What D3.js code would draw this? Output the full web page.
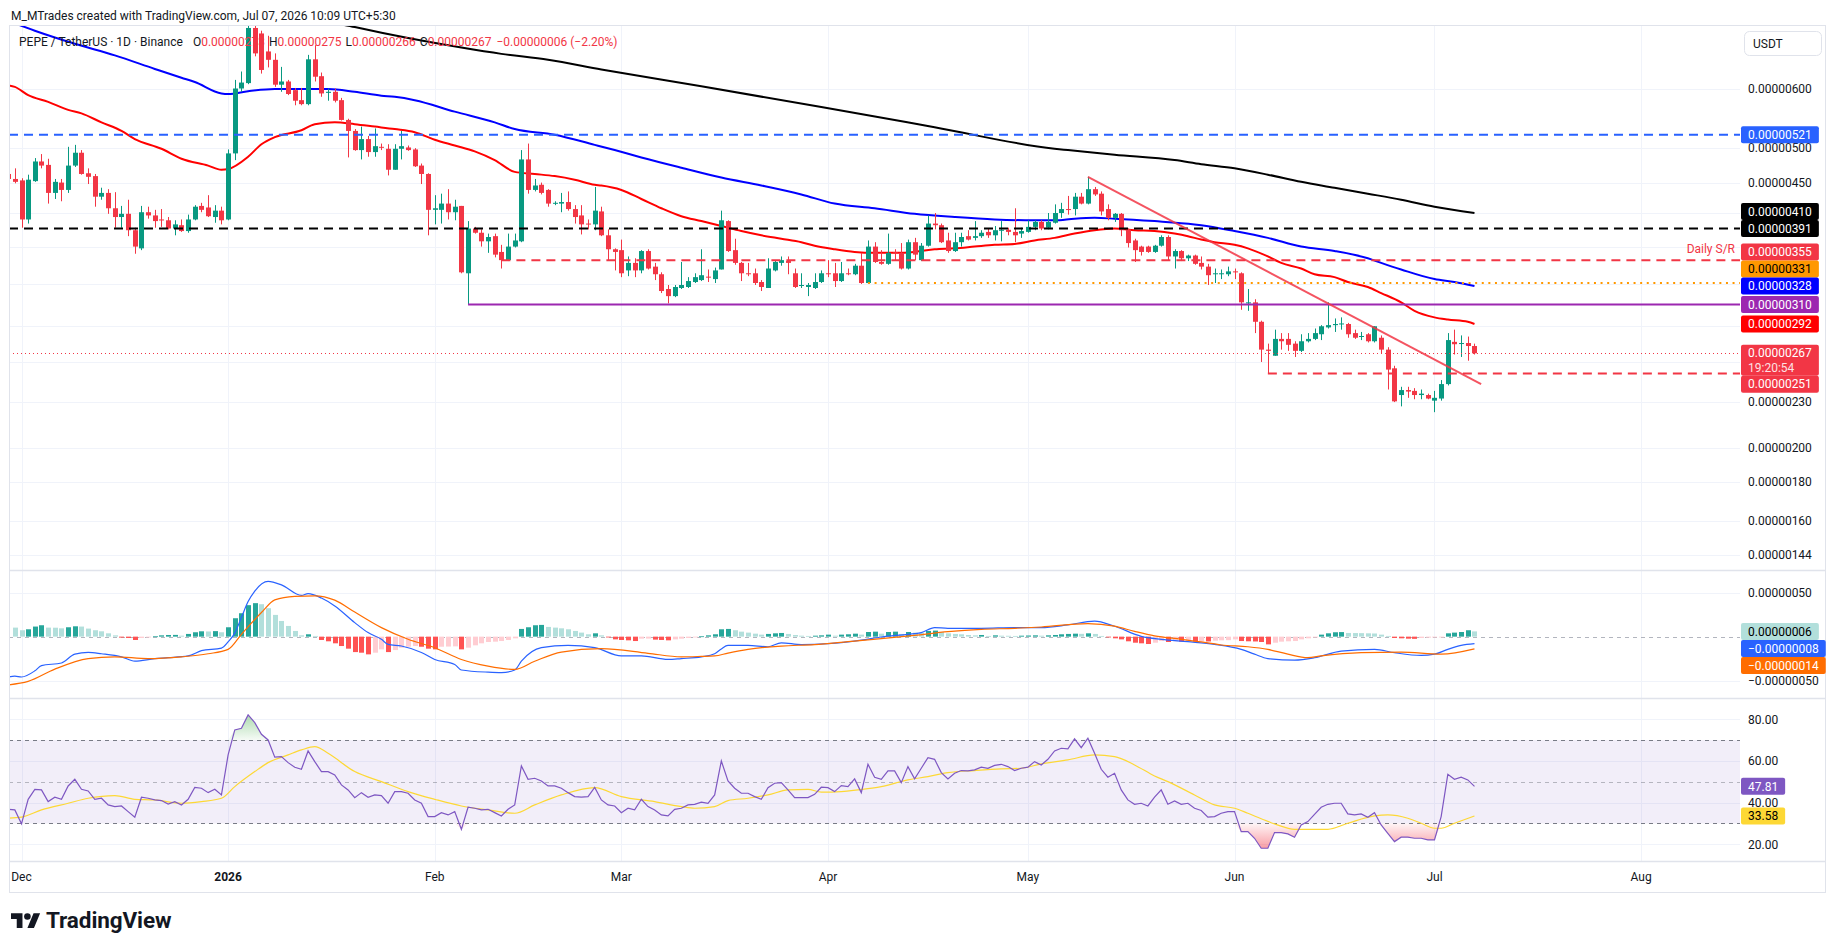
<!DOCTYPE html>
<html>
<head>
<meta charset="utf-8">
<title>PEPE / TetherUS 1D</title>
<script src="https://cdn.jsdelivr.net/npm/d3@7/dist/d3.min.js"></script>
<style>
  body { margin: 0; background: #ffffff; }
  svg { display: block; font-family: Roboto, "Noto Sans", sans-serif; }
</style>
</head>
<body>
<svg id="chart" width="1835" height="951"></svg>
<script>
// prices are in units of 0.00000001 USDT, one candle per day from Nov 29 2025
const firstCandle = Date.UTC(2025, 10, 29);

const candleOpen = [
  462,455,453,402,452,480,475,436,450,440,
  474,493,463,459,431,436,416,405,409,389,
  368,411,407,402,401,391,395,388,402,419,
  417,405,413,402,492,600,610,722,710,672,
  655,607,613,597,579,572,656,623,592,594,
  579,545,527,497,514,494,502,499,468,499,
  501,498,474,462,414,414,422,411,419,341,
  391,386,376,382,364,355,370,376,483,440,
  447,440,422,422,424,415,407,397,396,412,
  383,367,366,344,352,344,365,348,340,325,
  318,326,327,332,334,337.5,335,345,400,366,
  352,341,341,332,326,344,352,354,341,328,
  327,326,332,341,341,333,341,340,349,331,
  370,353,351,363.5,363,346,375,355,371,397,
  395,377,365,375,382,380,382,387,383,389,
  389.5,387,385,387,393,399,392,398,410,415,
  415,431,422,441,435,415,404,409,390,377,
  370,370,364,371,381,359,365,357,360,352,
  348,340,340,340,343,341,311,312,294,270,
  265,279,279,275,269,277,279,283,289,291,
  292,292,284,281,283,277,280,270,255,235,
  238.6,238,235,235,231,232.5,243,276.5,275,275.5,
  273
];
const candleHigh = [
  466,470,456,461,485,491,484,455,455,502,
  505,497,470,462,443,441,437,419,427,392,
  419,418,414,415,405,401,402,408,420,423,
  433,420,418,498,616,632,728,730,716,705,
  668,641,616,601,601,665,685,630,600,600,
  583,547,530,534,519,531,507,506,506,527,
  504,500,477,463,433,435,441,427,419,400,
  393,390,385,385,372,385,385,497,507,455,
  450,441,425,436,438,420,420,402,444,418,
  390,368,378,359,357,366,367,352,342,329,
  329,353,337,341,367,345,347,413,401,379,
  353,352,346,334,357,355,359,359,346,341,
  331,341,344,355,352,353,346,351,363,377,
  375,366,385,367,374,378,380,374,407,410,
  397,386,386,386,389,400,389,391,394,400,
  392,416,392,401,401,401,410,421,423,432,
  436,436,458,444,438,421,410,410,391,379,
  371,371,372,383,383,367,366,361,361,359,
  351,346,345,348,346,342,325,315,295,275,
  287,284,284,277,283,284,288,291,312,297,
  298,293,287,285,284,290,282,272,257,241,
  241,240,239,236,238,246,284,287,282,281,
  275
];
const candleLow = [
  450,449,392,397,451,470,422,428,425,436,
  472,461,448,418,427,409,392,392,382,362,
  366,403,392,393,390,383,387,386,401,411,
  405,398,396,401,482,594,608,662,628,640,
  603,594,588,570,570,570,613,585,578,575,
  544,486,496,483,487,487,497,460,468,483,
  496,472,448,383,396,397,402,401,341,310,
  385,370,363,358,346,354,369,375,435,438,
  434,418,420,411,413,397,384,390,389,382,
  355,344,337,338,337,341,345,334,321,311,
  317,325,326,331,333,332,331,345,364,350,
  333,338,329,323,326,343,349,340,326,326,
  318,325,331,337,327,332,339,339,330,331,
  352,350,350,355,345,345,355,354,370,390,
  374,363,364,370,377,377,380,380,377,376,
  383,375,380,386,389,389,390,397,404,408,
  407,421,421,432,407,401,399,382,369,353,
  360,363,363,370,355,346,354,354,350,345,
  329,331,335,338,335,305,304,284,260,251,
  265,270,269,264,268,276,278,278,288,285,
  287,280,279,278,276,276,267,239,230,227,
  233,232,232,232,223,231,242,266,264,261,
  266
];
const candleClose = [
  455,451,402,454,480,474,436,451,440,474,
  493,462,458,431,436,416,405,409,389,370,
  411,407,400,401,391,396,388,402,418,414,
  406,413,401,492,600,611,722,668,635,655,
  607,613,590,578,572,656,622,591,594,578,
  545,527,497,514,494,503,501,468,499,503,
  497,473,462,414,416,422,411,418,342,391,
  386,376,381,361,355,370,377,483,440,446,
  436,422,423,424,415,405,396,396,413,383,
  367,364,341,352,344,365,346,340,323,318,
  327,329,333,337,339,337,344,401,365,352,
  341,340,331,327,346,353,355,352,327,329,
  329,332,341,340,333,341,340,349,331,370,
  353,351,363,363,346,375,361,371,397,395,
  375,365,375,381,378,382,386,383,389,389.5,
  387,383,388,393,399,391,399,410,415,414,
  431,422,441,434,412,404,409,389,374,366,
  364,364,371,381,359,365,357,360,351,348,
  339,341,341,343,342,312,312,294,270,269,
  279,277,274,269,277,279,284,290,291,292,
  292.5,283,280,281.5,277,290,270,254,230.5,238.6,
  237.5,235,236,232.5,233,243,278,274.5,275.5,273,
  267
];

// moving averages: [days after Dec 1 2025, value]
const ema50 = [[-2,606],[-1,603],[1,588],[4,576],[7,562],[9,556],[12,541],[15,527],[17,514],[21,499],[24,484],[28,474],[30,468],[31,469],[34,487],[36,506],[38,517],[42,528],[44,538],[47,541],[50,538],[53,534],[56,530],[59,525],[62,513],[65,504],[68,495],[71,482],[74,465],[77,462],[80,459],[83,454],[86,447],[87,446],[90,440],[93,428],[96,416],[99,406],[102,400],[105,394],[108,388],[111,383],[114,379],[117,375],[119,371],[122,367],[125,364],[128,363],[131,363],[134,364],[137,367],[140,368],[143,370],[146,372],[149,373],[152,377],[155,380],[158,385],[161,389],[164,391],[167,389],[170,388],[173,385],[175,382],[177,378],[179,375],[182,372],[184,368],[187,359],[189,352],[192,346],[194,340],[197,337],[199,332],[202,327],[204,321],[207,312],[209,304],[212,298],[214,296],[217,294],[218,292]];
const ema100 = [[-2,738],[2,716],[8,688],[14,664],[20,637],[24,620],[26,612],[30,591],[31,590],[34,595],[38,599],[43,599],[46,599],[50,594],[54,587],[56,585],[59,579],[65,559],[71,541],[74,530],[80,521],[86,505],[89,497],[93,486],[99,471],[105,457],[111,446],[117,434],[122,422],[128,416],[134,409],[140,405],[146,402],[152,401],[155,401],[158,403],[161,404],[164,403],[170,400],[176,396],[177,395],[182,388],[187,380],[192,370],[197,365],[202,357],[204,352],[207,345],[212,335],[215,332],[218,328]];
const ema200 = [[40,770],[44,745],[50,724],[58,700],[66,680],[72,667],[79,655],[87,636],[102,604],[120,567],[137,533],[155,499],[157,497],[164,490],[173,482],[177,476],[182,470],[187,461],[192,451],[197,443],[202,435],[207,427],[212,418],[218,410]];

// drawn levels: price and first day (null = from the left edge)
const levelPrice = [521, 391, 355, 331, 310, 251];
const levelStart = [null, null, 72, 127, 67, 187];
const trendDays = [160, 219];
const trendPrice = [458, 243];

// MACD (12, 26, 9) histogram, one bar per day from Nov 30
const histStart = -1;
const histVals = [
  10.3,7.3,8.4,11.5,13,10.3,10.2,9.5,10.7,11.8,
  11.5,9.2,7.3,6.1,3.8,1.5,-1.1,-1.5,-3.8,-1.5,
  -0.4,0.4,1.5,1.9,2.0,1.1,3.1,5,6.1,5.9,
  6.3,5,10.7,21,26.7,35.9,38.2,37,32.4,24.8,
  17.9,12.2,6.5,1.5,2.7,0.8,-3.8,-5.3,-7.6,-10.7,
  -13.7,-17.6,-18.3,-20.2,-18.3,-14.5,-17.6,-15.3,-12.6,-11.5,
  -10.7,-11.5,-13.7,-14.5,-11.5,-11.3,-11.1,-14.5,-12.6,-9.9,
  -7.6,-6.1,-5.7,-5,-3.8,-1.9,8.8,10.7,13,13.4,
  11.1,10.3,9.5,8.4,6.5,4.6,2.7,3.8,1.5,-0.4,
  -3.1,-3.8,-4.2,-5,-2.3,-2.2,-3.4,-3.8,-4.2,-3.1,
  -2.3,-1.5,-0.8,0.4,1.5,2.7,8.4,8.8,7.3,5.7,
  4.6,3.4,2.3,3.1,3.8,4.2,3.1,1.9,1.1,0.8,
  1.1,1.5,2.3,1.1,2.3,2.7,3.4,2.3,5.3,5.7,
  3.4,5.3,5.7,3.1,5.3,4.6,4.2,6.5,6.9,5.3,
  3.8,3.1,2.7,1.9,1.5,1.9,0.8,1.5,1.1,1.0,
  0.8,1.1,1.3,1.5,1.1,1.5,1.9,2.7,3.1,3.4,
  3.2,3.8,3.1,0.8,-0.8,-1.9,-3.1,-5.3,-6.9,-7.6,
  -8.4,-6.9,-5,-6.1,-5.3,-5.7,-5.3,-5.7,-5.4,-5.5,
  -4.6,-4.2,-4.0,-3.1,-5,-5.3,-5.5,-6.1,-8.8,-6.9,
  -5.7,-5.3,-5,-3.1,-1.9,-0.8,2.3,3.8,5,5.2,
  4.2,4.1,4.0,3.8,3.6,2.3,0.8,-1.5,-1.9,-2.3,
  -2.5,-1.5,-1.1,-0.8,-0.4,3.8,4.6,5.3,7.3,6
];
const macdLine = [[-2,-46],[-1,-45],[0,-46],[2,-39],[3,-33],[6,-30],[8,-20],[10,-18],[12,-19.5],[15,-23],[17,-28],[20,-25],[22,-24],[25,-22],[27,-16],[30,-13],[31,-6],[32,4],[33,22],[34,40],[35,52],[37,63],[39,59],[42,47],[43,49],[45,44],[47,35],[50,16],[52,4.6],[54,-3],[55,-8.8],[57,-10.7],[60,-18],[62,-26],[65,-31.7],[66,-38],[70,-40.5],[72,-41],[74,-38],[75,-28],[78,-12.6],[82,-10],[86,-12.6],[90,-22],[93,-22],[97,-26],[99,-25],[102,-23],[104,-19.5],[105,-14],[106,-10],[109,-10],[112,-11.5],[114,-7],[117,-9],[121,-8],[126,-4],[129,-0.4],[133,2.7],[135,4.6],[137,10.3],[139,9.5],[144,9.5],[149,10.3],[153,10.3],[157,13.4],[161,17.6],[164,11.8],[168,0.4],[171,-3],[175,-5.7],[179,-8.8],[183,-14.5],[185,-20],[187,-25],[191,-26.7],[194,-24],[198,-16.4],[203,-14.5],[206,-18.3],[210,-21.4],[212,-20],[214,-14.5],[216,-10],[218,-8]];
const signalLine = [[-2,-55],[1,-51],[5,-37],[10,-25],[14,-23],[19,-25],[24,-23],[28,-19.5],[31,-14.5],[33,2.7],[36,27.5],[38,42],[41,46],[44,46.6],[47,41.6],[50,28],[54,10.3],[58,-3],[62,-12.6],[66,-26],[70,-33.6],[74,-37.4],[77,-28],[81,-17.6],[87,-13.7],[94,-19],[99,-23],[102,-22.5],[104,-22],[106,-18.7],[109,-14.5],[114,-10.7],[119,-9],[124,-5.7],[129,-2.3],[134,1.5],[139,5.7],[144,8.4],[149,9.5],[153,11],[160,14.9],[164,12],[167,6],[170,0.8],[174,-3],[177,-6],[180,-9.5],[184,-11.5],[187,-14.5],[190,-20],[193,-24],[195,-22],[201,-18.3],[207,-17.6],[213,-20],[218,-14]];

// RSI (14), one value per candle, and its moving average
const rsiVals = [
  36.8,36.5,29.8,41.6,46.4,46.1,40.5,42.6,41.6,48,
  51.2,46.4,45.6,41.6,42.1,38.9,38.1,38.4,35.7,33,
  42.6,42.1,41.3,41,39.3,40.5,38.9,41.6,47.3,46.9,
  44.8,46.4,43.7,62.9,74.9,75.7,82.1,78.4,72.8,70.1,
  61.8,62.1,59.2,57,56,64.8,59.7,54.9,54.9,53.3,
  48.5,46.1,42.4,44.8,42.6,43.7,43.4,39.7,45.3,45.3,
  44.5,41.3,39.7,33.3,33.3,35.2,34.1,35.7,27.2,37.8,
  37.3,36.5,36.8,35.2,33.6,36.8,38.9,57.6,51.2,51.7,
  50.4,48,48,46.9,44.8,42.9,42.6,42.9,47.3,41.3,
  38.9,38.4,35.2,37.3,36.5,41.6,38.1,36.5,34.1,33.6,
  36.8,37.3,38.9,39.2,40.2,39.7,43.7,60,50.4,46.9,
  44.5,44.5,42.9,41.6,47.2,49.3,49.6,46.1,42.4,42.4,
  42.4,44,47.4,47.2,45.3,48.2,47.7,51.4,44.8,58.4,
  52.2,51.2,55.2,55.2,49.6,57.3,51.4,56.5,61.6,60.8,
  54.4,51.4,54.1,55.4,55.2,55.7,57,56.5,57.9,58.4,
  57.3,55.4,56.5,57,59.7,58.1,60.8,64.8,66.1,65.8,
  70.6,66.4,70.9,63.7,56,52.2,54.1,46.1,41.3,39.2,
  39.7,38.4,42.6,46.1,39.2,40.8,39.2,39.7,37.3,36.2,
  33,33.3,34.9,35.7,35.7,26.1,26.1,22.9,18.1,18.1,
  25.6,25.6,25,23.4,29.3,30.9,34.4,37.8,39.2,39.7,
  39.7,34.6,34.1,34.6,33,35.2,29.3,25.3,21.3,23.4,
  23.4,22.9,22.9,22.1,22.1,33.3,53.6,51.2,52.2,50.9,
  47.81
];
const rsiMa = [[-2,32.5],[0,33],[3,36.5],[7,39.7],[10,42.1],[14,43.4],[17,41.6],[20,41.3],[24,39.7],[27,40.5],[30,42.1],[32,47.7],[35,54.9],[37,59.2],[40,62.9],[42,65.3],[44,66.9],[46,63.7],[50,54.9],[54,50.1],[58,45.3],[62,41.6],[66,38.4],[70,36.5],[74,34.9],[77,38.9],[81,43.7],[86,47.2],[90,42.9],[95,40.5],[99,38.1],[101,37.3],[104,38.1],[106,41],[109,42.1],[112,43.7],[115,46.1],[118,46.4],[120,45],[123,45.3],[127,46.7],[129,47.7],[133,50.9],[136,52.5],[139,54.4],[143,55.4],[147,56.2],[150,56.5],[153,58.6],[157,60.5],[161,62.9],[164,62.1],[167,58.1],[170,52.8],[172,50.1],[176,43.7],[179,38.9],[182,37.3],[184,34.9],[188,29.8],[191,27.2],[196,27.2],[199,30.1],[203,33.6],[205,34.1],[208,32.5],[210,30.1],[212,27.7],[213,27.7],[215,30.1],[218,33.58]];

// axis ticks
const priceTicks = [600, 500, 450, 410, 370, 330, 290, 260, 230, 200, 180, 160, 144];
const macdTicks = [50, -50];
const rsiTicks = [80, 60, 40, 20];
const monthTicks = [Date.UTC(2025,11,1), Date.UTC(2026,0,1), Date.UTC(2026,1,1), Date.UTC(2026,2,1), Date.UTC(2026,3,1), Date.UTC(2026,4,1), Date.UTC(2026,5,1), Date.UTC(2026,6,1), Date.UTC(2026,7,1)];
const monthLabels = ["Dec", "2026", "Feb", "Mar", "Apr", "May", "Jun", "Jul", "Aug"];

// ---- layout ----
const DAY = 864e5;
const dec1 = Date.UTC(2025, 11, 1);
const dayDate = d => new Date(dec1 + d * DAY);
const plotL = 9, plotR = 1740, axisR = 1825;
const mainTop = 25, mainBot = 570, macdBot = 698, rsiBot = 861, timeBot = 892;
const upCol = "#089981", downCol = "#f23645";
const ink = "#131722";

const svg = d3.select("#chart");
const x = d3.scaleUtc().domain([new Date(dec1), new Date(Date.UTC(2026, 7, 1))]).range([21.5, 1641.1]);
const yP = d3.scaleLog().domain([144, 600]).range([555.2, 88.5]);
const yM = d3.scaleLinear().domain([-50, 50]).range([680.5, 592.8]);
const yR = d3.scaleLinear().domain([20, 80]).range([844.3, 719.3]);
const fmt8 = v => (v < 0 ? "\u2212" : "") + (Math.abs(v) * 1e-8).toFixed(8);

const defs = svg.append("defs");
[["clipMain", mainTop, mainBot], ["clipMacd", mainBot, macdBot], ["clipRsi", macdBot, rsiBot]].forEach(c => {
  defs.append("clipPath").attr("id", c[0]).append("rect")
    .attr("x", plotL).attr("y", c[1]).attr("width", plotR - plotL).attr("height", c[2] - c[1]);
});
const gradUp = defs.append("linearGradient").attr("id", "obFill").attr("x1", 0).attr("x2", 0)
  .attr("gradientUnits", "userSpaceOnUse").attr("y1", yR(85)).attr("y2", yR(70));
gradUp.append("stop").attr("offset", 0).attr("stop-color", "rgba(76,175,80,0.55)");
gradUp.append("stop").attr("offset", 1).attr("stop-color", "rgba(76,175,80,0.05)");
const gradDn = defs.append("linearGradient").attr("id", "osFill").attr("x1", 0).attr("x2", 0)
  .attr("gradientUnits", "userSpaceOnUse").attr("y1", yR(30)).attr("y2", yR(15));
gradDn.append("stop").attr("offset", 0).attr("stop-color", "rgba(242,54,69,0.05)");
gradDn.append("stop").attr("offset", 1).attr("stop-color", "rgba(242,54,69,0.6)");

// ---- grid ----
const grid = svg.append("g").attr("stroke", "#f0f3fa").attr("stroke-width", 1);
monthTicks.forEach(t => {
  const gx = Math.round(x(new Date(t))) + 0.5;
  grid.append("line").attr("x1", gx).attr("x2", gx).attr("y1", mainTop).attr("y2", rsiBot);
});
priceTicks.forEach(v => grid.append("line").attr("x1", plotL).attr("x2", plotR).attr("y1", Math.round(yP(v)) + 0.5).attr("y2", Math.round(yP(v)) + 0.5));
macdTicks.forEach(v => grid.append("line").attr("x1", plotL).attr("x2", plotR).attr("y1", Math.round(yM(v)) + 0.5).attr("y2", Math.round(yM(v)) + 0.5));
rsiTicks.forEach(v => grid.append("line").attr("x1", plotL).attr("x2", plotR).attr("y1", Math.round(yR(v)) + 0.5).attr("y2", Math.round(yR(v)) + 0.5));

// ---- main pane ----
const gMain = svg.append("g").attr("clip-path", "url(#clipMain)");
const lineOf = (ys) => d3.line().x(d => x(dayDate(d[0]))).y(d => ys(d[1])).curve(d3.curveMonotoneX);

[[ema200, "#000000"], [ema100, "#0000ff"], [ema50, "#ff0000"]].forEach(e => {
  gMain.append("path").datum(e[0]).attr("d", lineOf(yP)).attr("fill", "none").attr("stroke", e[1]).attr("stroke-width", 2);
});

const candles = candleOpen.map((o, i) => ({
  date: new Date(firstCandle + i * DAY), o: o, h: candleHigh[i], l: candleLow[i], c: candleClose[i]
}));
gMain.append("g").selectAll("line").data(candles).join("line")
  .attr("x1", d => Math.round(x(d.date)) + 0.5).attr("x2", d => Math.round(x(d.date)) + 0.5)
  .attr("y1", d => yP(d.h)).attr("y2", d => yP(d.l))
  .attr("stroke", d => d.c >= d.o ? upCol : downCol).attr("stroke-width", 1);
gMain.append("g").selectAll("rect").data(candles).join("rect")
  .attr("x", d => Math.round(x(d.date)) - 2).attr("width", 5)
  .attr("y", d => yP(Math.max(d.o, d.c)))
  .attr("height", d => Math.max(1, Math.abs(yP(d.o) - yP(d.c))))
  .attr("fill", d => d.c >= d.o ? upCol : downCol);

// horizontal levels
const levelStroke = ["#2962ff", "#000000", "#f23645", "#ff9800", "#9c27b0", "#f23645"];
const levelDash = ["9,6", "9,6", "9,6", "2,4.6", null, "9,6"];
levelPrice.forEach((p, i) => {
  const ly = yP(p);
  gMain.append("line")
    .attr("x1", levelStart[i] === null ? plotL : x(dayDate(levelStart[i]))).attr("x2", plotR)
    .attr("y1", ly).attr("y2", ly)
    .attr("stroke", levelStroke[i]).attr("stroke-width", 2)
    .attr("stroke-dasharray", levelDash[i]);
});
gMain.append("text").attr("x", plotR - 5).attr("y", yP(355) - 7)
  .attr("text-anchor", "end").attr("font-size", 12).attr("fill", "#f23645").text("Daily S/R");

// descending trend line
gMain.append("line")
  .attr("x1", x(dayDate(trendDays[0]))).attr("y1", yP(trendPrice[0]))
  .attr("x2", x(dayDate(trendDays[1]))).attr("y2", yP(trendPrice[1]))
  .attr("stroke", "#f23645").attr("stroke-opacity", 0.85).attr("stroke-width", 2);

// last price line
const lastClose = candleClose[candleClose.length - 1];
gMain.append("line").attr("x1", plotL).attr("x2", plotR)
  .attr("y1", Math.round(yP(lastClose)) + 0.5).attr("y2", Math.round(yP(lastClose)) + 0.5)
  .attr("stroke", "#f23645").attr("stroke-width", 1).attr("stroke-dasharray", "1,3");

// ---- MACD pane ----
const gMacd = svg.append("g").attr("clip-path", "url(#clipMacd)");
gMacd.append("line").attr("x1", plotL).attr("x2", plotR)
  .attr("y1", Math.round(yM(0)) + 0.5).attr("y2", Math.round(yM(0)) + 0.5)
  .attr("stroke", "#b2b5be").attr("stroke-dasharray", "4,4");
const histBars = histVals.map((v, i) => ({ d: histStart + i, v: v, prev: i ? histVals[i - 1] : v }));
gMacd.append("g").selectAll("rect").data(histBars).join("rect")
  .attr("x", d => Math.round(x(dayDate(d.d))) - 2).attr("width", 5)
  .attr("y", d => Math.min(yM(0), yM(d.v)))
  .attr("height", d => Math.max(0.8, Math.abs(yM(d.v) - yM(0))))
  .attr("fill", d => d.v >= 0 ? (d.v > d.prev ? "#26a69a" : "#b2dfdb") : (d.v < d.prev ? "#ff5252" : "#ffcdd2"));
gMacd.append("path").datum(macdLine).attr("d", lineOf(yM)).attr("fill", "none").attr("stroke", "#2962ff").attr("stroke-width", 1.2);
gMacd.append("path").datum(signalLine).attr("d", lineOf(yM)).attr("fill", "none").attr("stroke", "#ff6d00").attr("stroke-width", 1.2);

// ---- RSI pane ----
const gRsi = svg.append("g").attr("clip-path", "url(#clipRsi)");
gRsi.append("rect").attr("x", plotL).attr("width", plotR - plotL)
  .attr("y", yR(70)).attr("height", yR(30) - yR(70)).attr("fill", "rgba(126,87,194,0.1)");
[[70, "#787b86"], [50, "rgba(120,123,134,0.5)"], [30, "#787b86"]].forEach(l => {
  gRsi.append("line").attr("x1", plotL).attr("x2", plotR)
    .attr("y1", Math.round(yR(l[0])) + 0.5).attr("y2", Math.round(yR(l[0])) + 0.5)
    .attr("stroke", l[1]).attr("stroke-dasharray", "4,4");
});
const rsiPts = rsiVals.map((v, i) => ({ date: new Date(firstCandle + i * DAY), v: v }));
gRsi.append("path").datum(rsiPts)
  .attr("d", d3.area().x(d => x(d.date)).y0(yR(70)).y1(d => yR(Math.max(d.v, 70))))
  .attr("fill", "url(#obFill)");
gRsi.append("path").datum(rsiPts)
  .attr("d", d3.area().x(d => x(d.date)).y0(yR(30)).y1(d => yR(Math.min(d.v, 30))))
  .attr("fill", "url(#osFill)");
gRsi.append("path").datum(rsiMa).attr("d", lineOf(yR)).attr("fill", "none").attr("stroke", "#fdd835").attr("stroke-width", 1.2);
gRsi.append("path").datum(rsiPts)
  .attr("d", d3.line().x(d => x(d.date)).y(d => yR(d.v)))
  .attr("fill", "none").attr("stroke", "#7e57c2").attr("stroke-width", 1.2);

// ---- frame and separators ----
const frame = svg.append("g").attr("stroke", "#e0e3eb").attr("fill", "none");
frame.append("rect").attr("x", plotL + 0.5).attr("y", mainTop + 0.5).attr("width", axisR - plotL).attr("height", timeBot - mainTop);
[mainBot, macdBot, rsiBot].forEach(py => frame.append("line").attr("x1", plotL).attr("x2", axisR).attr("y1", py + 0.5).attr("y2", py + 0.5).attr("stroke-width", 1.5));

// ---- price tag layout ----
function stackDown(items) {
  items.sort((a, b) => a.y - b.y);
  let bottom = -1e9;
  items.forEach(t => { t.cy = Math.max(t.y, bottom + 8.5); bottom = t.cy - 8.5 + t.h; });
}
const last = a => a[a.length - 1][1];
const mainTags = [
  { v: levelPrice[0], fill: "#2962ff", color: "#fff" },
  { v: last(ema200), fill: "#000000", color: "#fff" },
  { v: levelPrice[1], fill: "#000000", color: "#fff" },
  { v: levelPrice[2], fill: "#f23645", color: "#fff" },
  { v: levelPrice[3], fill: "#ff9800", color: "#000" },
  { v: last(ema100), fill: "#0000ff", color: "#fff" },
  { v: levelPrice[4], fill: "#9c27b0", color: "#fff" },
  { v: last(ema50), fill: "#ff0000", color: "#fff" },
  { v: lastClose, fill: "#f23645", color: "#fff", extra: "19:20:54" },
  { v: levelPrice[5], fill: "#f23645", color: "#fff" }
];
mainTags.forEach(t => { t.y = yP(t.v); t.h = t.extra ? 31 : 17; });
const anchor = mainTags.find(t => t.extra);
anchor.cy = anchor.y;
let topEdge = anchor.y - 8.5;
mainTags.filter(t => t !== anchor && t.y <= anchor.y).sort((a, b) => b.y - a.y)
  .forEach(t => { t.cy = Math.min(t.y, topEdge - 8.5); topEdge = t.cy - 8.5; });
let botEdge = anchor.y - 8.5 + anchor.h;
mainTags.filter(t => t !== anchor && t.y > anchor.y).sort((a, b) => a.y - b.y)
  .forEach(t => { t.cy = Math.max(t.y, botEdge + 8.5); botEdge = t.cy + 8.5; });

const macdTags = [
  { v: histVals[histVals.length - 1], fill: "#b2dfdb", color: "#000" },
  { v: last(macdLine), fill: "#2962ff", color: "#fff" },
  { v: last(signalLine), fill: "#ff6d00", color: "#fff" }
];
macdTags.forEach(t => { t.y = yM(t.v); t.h = 17; });
stackDown(macdTags);

const rsiTags = [
  { v: rsiVals[rsiVals.length - 1], fill: "#7e57c2", color: "#fff" },
  { v: last(rsiMa), fill: "#fdd835", color: "#000" }
];
rsiTags.forEach(t => { t.y = yR(t.v); t.h = 17; });
stackDown(rsiTags);

// a scale label hidden behind a tag box is not drawn
const allTags = mainTags.concat(macdTags, rsiTags);
const hidden = ly => allTags.some(t => ly >= t.cy - 8.5 && ly <= t.cy - 8.5 + t.h);

// ---- axes ----
const axisG = svg.append("g").attr("font-size", 12).attr("fill", ink);
priceTicks.filter(v => !hidden(yP(v))).forEach(v => axisG.append("text").attr("x", 1748).attr("y", yP(v)).attr("dy", "0.35em").text(fmt8(v)));
macdTicks.filter(v => !hidden(yM(v))).forEach(v => axisG.append("text").attr("x", 1748).attr("y", yM(v)).attr("dy", "0.35em").text(fmt8(v)));
rsiTicks.filter(v => !hidden(yR(v))).forEach(v => axisG.append("text").attr("x", 1748).attr("y", yR(v)).attr("dy", "0.35em").text(v.toFixed(2)));
monthTicks.forEach((t, i) => {
  axisG.append("text").attr("x", x(new Date(t))).attr("y", 877).attr("dy", "0.35em")
    .attr("text-anchor", "middle").attr("font-weight", i === 1 ? 700 : 400).text(monthLabels[i]);
});

// currency box
svg.append("rect").attr("x", 1744.5).attr("y", 31.5).attr("width", 77).attr("height", 24).attr("rx", 5)
  .attr("fill", "#fff").attr("stroke", "#e0e3eb");
svg.append("text").attr("x", 1753).attr("y", 43.5).attr("dy", "0.35em").attr("font-size", 12).attr("fill", ink).text("USDT");

// ---- tags ----
function drawTag(cy, h, label, fill, color, extra) {
  const g = svg.append("g");
  const r = g.append("rect").attr("x", 1741).attr("y", cy - 8.5).attr("height", h).attr("rx", 2).attr("fill", fill);
  const t = g.append("text").attr("x", 1748).attr("y", cy).attr("dy", "0.35em")
    .attr("font-size", 12).attr("fill", color).text(label);
  if (extra) g.append("text").attr("x", 1748).attr("y", cy + 14.5).attr("dy", "0.35em")
    .attr("font-size", 12).attr("fill", color).attr("opacity", 0.85).text(extra);
  r.attr("width", t.node().getComputedTextLength() + 14);
}
mainTags.forEach(t => drawTag(t.cy, t.h, fmt8(t.v), t.fill, t.color, t.extra));
macdTags.forEach(t => drawTag(t.cy, t.h, fmt8(t.v), t.fill, t.color));
rsiTags.forEach(t => drawTag(t.cy, t.h, t.v.toFixed(2), t.fill, t.color));

// ---- header and legend ----
svg.append("text").attr("x", 11).attr("y", 16).attr("dy", "0.35em").attr("font-size", 12).attr("fill", ink)
  .text("M_MTrades created with TradingView.com, Jul 07, 2026 10:09 UTC+5:30");
const legend = svg.append("text").attr("x", 19).attr("y", 42).attr("dy", "0.35em").attr("font-size", 12).attr("fill", ink);
legend.append("tspan").text("PEPE / TetherUS \u00b7 1D \u00b7 Binance");
const lastCandle = candles[candles.length - 1];
[["O", lastCandle.o], ["H", lastCandle.h], ["L", lastCandle.l], ["C", lastCandle.c]].forEach((p, i) => {
  legend.append("tspan").attr("dx", i === 0 ? 10 : 4).text(p[0]);
  legend.append("tspan").attr("fill", "#f23645").text(fmt8(p[1]));
});
const prevClose = candleClose[candleClose.length - 2];
const chg = lastCandle.c - prevClose;
legend.append("tspan").attr("dx", 5).attr("fill", "#f23645")
  .text(fmt8(chg) + " (" + (chg < 0 ? "\u2212" : "+") + Math.abs(chg / prevClose * 100).toFixed(2) + "%)");

// ---- TradingView logo ----
const logo = svg.append("g").attr("transform", "translate(11,910)").attr("fill", ink);
const icon = logo.append("g").attr("transform", "scale(0.82)");
icon.append("path").attr("d", "M14 22H7V11H0V4h14v18zM28 22h-8l7.5-18h8L28 22z");
icon.append("circle").attr("cx", 20).attr("cy", 8).attr("r", 4);
logo.append("text").attr("x", 35).attr("y", 18).attr("font-size", 22.5).attr("font-weight", 700)
  .attr("letter-spacing", -0.1).text("TradingView");
</script>
</body>
</html>
